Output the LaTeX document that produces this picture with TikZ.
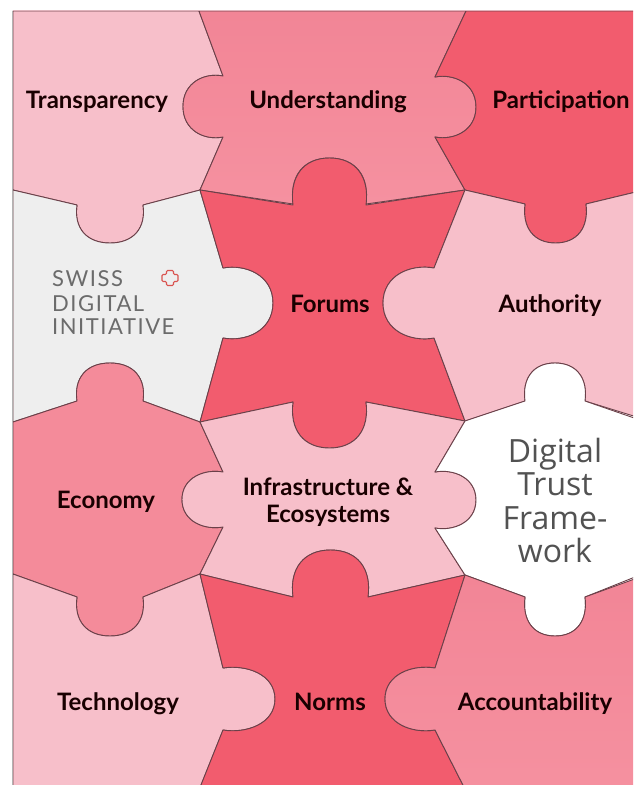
\documentclass[tikz,border=0pt]{standalone}
\usepackage{fontspec}
\setmainfont{Lato}
\newfontfamily\dtfont{Open Sans}
\newfontfamily\sdifont[LetterSpace=7]{Lato}
\newcommand\hk[4]{.. controls ({#1+.45*(#3-#1)},{#2-.06*(#4-#2)}) and (#3,{#2+.1*(#4-#2)}) .. (#3,{(#2+#4)/2}) .. controls (#3,{#4-.1*(#4-#2)}) and ({#1+.45*(#3-#1)},{#4+.06*(#4-#2)}) .. (#1,#4)}
\newcommand\vk[4]{.. controls ({#1-.05*(#4-#1)},{#2+.6*(#3-#2)}) and ({#1+.14*(#4-#1)},#3) .. ({(#1+#4)/2},#3) .. controls ({#4-.14*(#4-#1)},#3) and ({#4+.05*(#4-#1)},{#2+.6*(#3-#2)}) .. (#4,#2)}
\definecolor{pale}{HTML}{F7BFCA}
\definecolor{midp}{HTML}{F48B9A}
\definecolor{midhi}{HTML}{F28596}
\definecolor{midlo}{HTML}{F591A0}
\definecolor{strong}{HTML}{F25C6E}
\definecolor{greyp}{HTML}{EEEEEE}
\definecolor{edgec}{HTML}{6B4049}
\definecolor{crossc}{HTML}{D9534F}
\tikzset{
 piece/.style={draw=edgec,line width=0.9pt,line join=round},
 lab/.style={font=\fontsize{24}{28}\selectfont\bfseries,text=black!90!red,anchor=base,inner sep=0pt},
 sdi/.style={font=\sdifont\fontsize{22}{26}\selectfont,text=black!58,anchor=base west,inner sep=0pt},
 dt/.style={font=\dtfont\fontsize{32}{36}\selectfont,text=black!68,anchor=base,inner sep=0pt}
}
\begin{document}
\begin{tikzpicture}[x=1pt,y=-1pt]
\useasboundingbox (0,0) rectangle (633,785);
\fill[white] (0,0) rectangle (633,785);
\begin{scope}
\clip (12,10) rectangle (633,785);
\path[piece,fill=pale] (13,11)--(199,11)--(223,76) \hk{223}{76}{183}{137} --(200,190)--(143,205) \vk{143}{205}{243}{77} --(13,190)--cycle;
\path[piece,top color=midhi,bottom color=midlo] (199,11)--(466,11)--(435,77) \hk{435}{77}{476}{137} --(465,190)--(366,204) \vk{366}{204}{158}{293} --(200,190)--(223,137) \hk{223}{137}{183}{76} --cycle;
\path[piece,fill=strong] (466,11)--(640,11)--(640,191)--(586,204) \vk{586}{204}{243}{525} --(465,190)--(435,137) \hk{435}{137}{476}{77} --cycle;
\path[piece,fill=greyp] (13,190)--(77,205) \vk{77}{205}{243}{143} --(200,190)--(223,268) \hk{223}{268}{273}{338} --(200,422)--(143,401) \vk{143}{401}{363}{77} --(13,422)--cycle;
\path[piece,fill=strong] (200,190)--(293,205) \vk{293}{205}{158}{366} --(465,190)--(434,268) \hk{434}{268}{383}{338} --(465,421)--(366,402) \vk{366}{402}{448}{293} --(200,422)--(223,338) \hk{223}{338}{273}{268} --cycle;
\path[piece,fill=pale] (465,190)--(525,204) \vk{525}{204}{243}{586} --(640,191)--(640,418)--(585,401) \vk{585}{401}{363}{525} --(465,421)--(434,338) \hk{434}{338}{383}{268} --cycle;
\path[piece,fill=midp] (13,422)--(77,401) \vk{77}{401}{363}{143} --(200,422)--(223,472) \hk{223}{472}{182}{527} --(200,574)--(143,597) \vk{143}{597}{636}{77} --(13,574)--cycle;
\path[piece,fill=pale] (200,422)--(293,402) \vk{293}{402}{448}{366} --(465,421)--(435,472) \hk{435}{472}{476}{528} --(465,575)--(368,597) \vk{368}{597}{550}{293} --(200,574)--(223,527) \hk{223}{527}{182}{472} --cycle;
\path[piece,fill=white] (465,421)--(525,401) \vk{525}{401}{363}{585} --(640,420)--(640,575)--(585,597) \vk{585}{597}{636}{525} --(465,575)--(435,528) \hk{435}{528}{476}{472} --cycle;
\path[piece,fill=pale] (13,574)--(77,597) \vk{77}{597}{636}{143} --(200,574)--(223,668) \hk{223}{668}{275}{730} --(197,795)--(13,795)--cycle;
\path[piece,fill=strong] (200,574)--(293,597) \vk{293}{597}{550}{368} --(465,575)--(435,668) \hk{435}{668}{385}{730} --(468,795)--(197,795)--(223,730) \hk{223}{730}{275}{668} --cycle;
\path[piece,top color=midhi,bottom color=midlo] (465,575)--(525,597) \vk{525}{597}{636}{585} --(640,577)--(640,795)--(468,795)--(435,730) \hk{435}{730}{385}{668} --cycle;
\end{scope}
\draw[black!30,line width=0.8pt] (12.5,785)--(12.5,10.5);
\draw[pale!80!gray,line width=0.8pt] (12.5,10.5)--(633,10.5);
\node[lab] (transparency) at (97,108) {Transparency};
\node[lab] (understanding) at (328,108) {Understanding};
\node[lab] (participation) at (561,108) {Participation};
\node[lab] (forums) at (330,312) {Forums};
\node[lab] (authority) at (550,312) {Authority};
\node[lab] (economy) at (106,508) {Economy};
\node[lab] (infra1) at (328,495) {Infrastructure \&};
\node[lab] (infra2) at (328,522) {Ecosystems};
\node[lab] (technology) at (118,710) {Technology};
\node[lab] (norms) at (330,710) {Norms};
\node[lab] (accountability) at (535,710) {Accountability};
\node[sdi] (swiss) at (52,286) {SWISS};
\node[sdi] (digital) at (52,311) {DIGITAL};
\node[sdi] (initiative) at (52,334) {INITIATIVE};
\draw[crossc,line width=1.1pt,rounded corners=1.2pt] (166.5,270.5)--(173.5,270.5)--(173.5,274.5)--(178,274.5)--(178,281.5)--(173.5,281.5)--(173.5,285.5)--(166.5,285.5)--(166.5,281.5)--(162,281.5)--(162,274.5)--(166.5,274.5)--cycle;
\node[dt] (dt1) at (555,462) {Digital};
\node[dt] (dt2) at (555,495) {Trust};
\node[dt] (dt3) at (555,529) {Frame-};
\node[dt] (dt4) at (555,562) {work};
\end{tikzpicture}
\end{document}
